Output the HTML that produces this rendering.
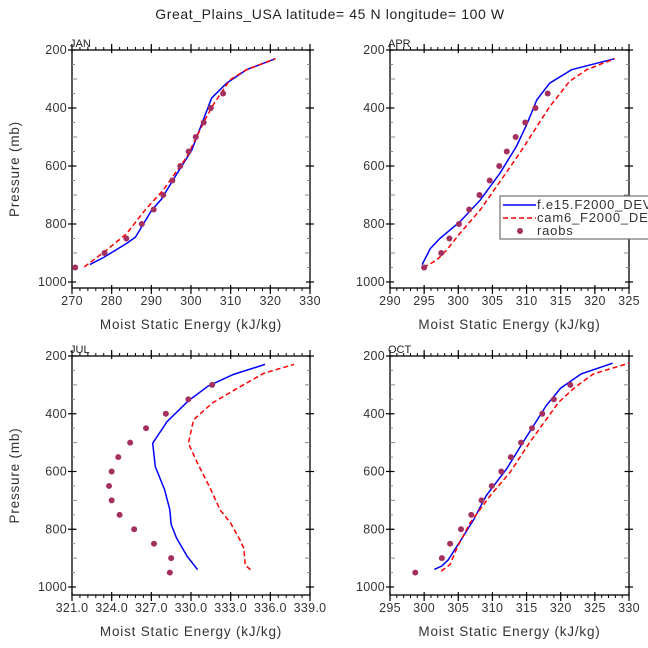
<!DOCTYPE html>
<html><head><meta charset="utf-8"><style>
html,body{margin:0;padding:0;background:#fff;overflow:hidden;}
svg{display:block;font-family:"Liberation Sans",sans-serif;}
</style></head><body>
<svg id="c" width="648" height="648" viewBox="0 0 648 648">
<text x="330" y="19" font-size="14" letter-spacing="0.6" text-anchor="middle" fill="#222">Great_Plains_USA  latitude= 45 N longitude= 100 W</text>
</svg>
<script>
// ---- data (pressure levels in mb, MSE in kJ/kg) ----
const obsP = [950,900,850,800,750,700,650,600,550,500,450,400,350];
const obsP2 = [950,900,850,800,750,700,650,600,550,500,450,400,350,300];
const janObs = [270.8,278.2,283.7,287.6,290.6,293.0,295.3,297.3,299.4,301.2,303.2,305.0,308.1];
const aprObs = [295.0,297.5,298.7,300.1,301.6,303.1,304.6,306.0,307.1,308.4,309.8,311.3,313.1];
const julObs = [328.4,328.5,327.2,325.7,324.6,324.0,323.8,324.0,324.5,325.4,326.6,328.1,329.8,331.6];
const octObs = [298.7,302.6,303.8,305.4,306.9,308.4,309.9,311.3,312.7,314.2,315.8,317.3,319.0,321.4];

const janBlueX = [274.5,278,283.8,286,290.1,292.5,295.5,300.2,305.2,309,314,321.3];
const janBlueP = [940,915,867,845,752,715,648,545,366,314,268,230];
const janRedX = [273.1,278.7,283.8,288.4,293,299,303.5,305.6,309.8,314,321.3];
const janRedP = [948,890,833,752,683,568,441,389,303,268,230];

const aprBlueX = [294.7,295.9,297.3,300.2,303.2,306.1,308.5,310,311.5,313.4,316.6,322.9];
const aprBlueP = [940,885,850,793,718,625,533,458,372,314,268,230];
const aprRedX = [294.9,296.8,298.3,300.2,303.2,306.6,309,311.5,313.4,316.3,318.8,322.9];
const aprRedP = [950,925,890,833,752,637,556,464,395,308,268,230];

const julBlueX = [330.5,329.7,328.9,328.5,328.4,328.0,327.3,327.1,328.2,329.8,331.3,333.2,335.6];
const julBlueP = [940,893,830,784,732,663,583,502,427,355,304,264,229];
const julRedX = [334.5,334.1,334.0,333.7,333.0,332.2,331.4,330.5,329.8,330.2,331.6,333.5,335.5,337.8];
const julRedP = [940,924,866,837,779,733,653,572,502,421,363,312,260,229];

const octBlueX = [301.5,302.6,303.5,305.2,307.2,309.1,312.1,314.5,317.9,320,323,327.6];
const octBlueP = [939,927,907,844,769,683,590,498,371,311,262,225];
const octRedX = [302.5,303.8,304.8,306.7,309.7,312.6,315.5,319.7,322.1,324.8,330];
const octRedP = [945,922,865,779,683,602,498,360,308,262,225];

const yTicks = [200,400,600,800,1000];
const janXTicks = [270,280,290,300,310,320,330];
const aprXTicks = [290,295,300,305,310,315,320,325];
const julXTicks = ["321.0","324.0","327.0","330.0","333.0","336.0","339.0"];
const octXTicks = [295,300,305,310,315,320,325,330];

const NS = "http://www.w3.org/2000/svg";
const svg = document.getElementById('c');
function mk(tag, attrs, parent){ const e=document.createElementNS(NS,tag); for(const k in attrs) e.setAttribute(k,attrs[k]); (parent||svg).appendChild(e); return e; }

function panel(cfg){
  const g = mk('g',{});
  
  
  const {x0,x1,top,y1000,bot,xmin,xmax,minorX} = cfg;
  const xs = v => x0 + (v-xmin)/(xmax-xmin)*(x1-x0);
  const ys = p => top + (p-200)/800*(y1000-top);
  const fr = mk('rect',{x:x0,y:top,width:x1-x0,height:bot-top,fill:'none',stroke:'#000','stroke-width':1.3},g);
  
  
  for(let v=xmin; v<=xmax+1e-6; v+=minorX){
    const X=xs(v);
    mk('line',{x1:X,y1:bot,x2:X,y2:bot+3,stroke:'#000','stroke-width':1},g);
    mk('line',{x1:X,y1:top,x2:X,y2:top-3,stroke:'#000','stroke-width':1},g);
  }
  cfg.xt.forEach(t=>{
    const X=xs(parseFloat(t));
    mk('line',{x1:X,y1:bot-3,x2:X,y2:bot+6,stroke:'#000','stroke-width':1.2},g);
    mk('line',{x1:X,y1:top+3,x2:X,y2:top-6,stroke:'#000','stroke-width':1.2},g);
    const tx = mk('text',{x:X,y:bot+17,'font-size':12.5,'letter-spacing':0.3,'text-anchor':'middle',fill:'#333'},g);
    tx.textContent = t;
    
    
  });
  for(let p=250;p<1000;p+=50){
    const Y=ys(p); const len = p%100===0?5:3;
    mk('line',{x1:x0,y1:Y,x2:x0+len,y2:Y,stroke:'#888','stroke-width':1},g);
    mk('line',{x1:x1,y1:Y,x2:x1-len,y2:Y,stroke:'#888','stroke-width':1},g);
  }
  yTicks.forEach(p=>{
    const Y=ys(p);
    mk('line',{x1:x0-4,y1:Y,x2:x0+4,y2:Y,stroke:'#000','stroke-width':1.2},g);
    mk('line',{x1:x1+4,y1:Y,x2:x1-4,y2:Y,stroke:'#000','stroke-width':1.2},g);
    const tx = mk('text',{x:x0-5,y:Y+4,'font-size':12.5,'letter-spacing':0.3,'text-anchor':'end',fill:'#333'},g);
    tx.textContent = p;
    
    
  });
  const ml = mk('text',{x:x0-2,y:top-3,'font-size':11,fill:'#222'},g);
  ml.textContent = cfg.label;
  
  
  const xt = mk('text',{x:(x0+x1)/2,y:bot+41,'font-size':13.5,'letter-spacing':0.8,'text-anchor':'middle',fill:'#333'},g);
  xt.textContent = 'Moist Static Energy (kJ/kg)';
  
  
  if(cfg.ytitle){
    const cy=(top+bot)/2;
    const yt = mk('text',{x:19,y:cy,'font-size':13.5,'letter-spacing':0.8,'text-anchor':'middle',fill:'#333',transform:`rotate(-90 19 ${cy})`},g);
    yt.textContent = 'Pressure (mb)';
    
    
  }
  const line = (X,P,col,dash,nm)=>{
    const pts = X.map((v,i)=>xs(v).toFixed(1)+','+ys(P[i]).toFixed(1)).join(' ');
    const pl = mk('polyline',{points:pts,fill:'none',stroke:col,'stroke-width':1.5,'stroke-dasharray':dash||'none'},g);
    
    
  };
  line(cfg.bx,cfg.bp,'#0000ff',null,cfg.name+'-blue-line');
  line(cfg.rx,cfg.rp,'#ff0000','5,3',cfg.name+'-red-line');
  cfg.ox.forEach((v,i)=>{
    const c = mk('circle',{cx:xs(v),cy:ys(cfg.op[i]),r:3,fill:'#a3305e'},g);
    
    
  });
}

const TOP1=50, Y1K1=282, BOT1=288, TOP2=356, Y1K2=587, BOT2=595;
panel({name:'jan',label:'JAN',x0:72,x1:310,top:TOP1,y1000:Y1K1,bot:BOT1,xmin:270,xmax:330,minorX:2,xt:janXTicks,ytitle:true,
  bx:janBlueX,bp:janBlueP,rx:janRedX,rp:janRedP,ox:janObs,op:obsP});
panel({name:'apr',label:'APR',x0:390,x1:629,top:TOP1,y1000:Y1K1,bot:BOT1,xmin:290,xmax:325,minorX:1,xt:aprXTicks,
  bx:aprBlueX,bp:aprBlueP,rx:aprRedX,rp:aprRedP,ox:aprObs,op:obsP});
panel({name:'jul',label:'JUL',x0:72,x1:310,top:TOP2,y1000:Y1K2,bot:BOT2,xmin:321,xmax:339,minorX:0.6,xt:julXTicks,ytitle:true,
  bx:julBlueX,bp:julBlueP,rx:julRedX,rp:julRedP,ox:julObs,op:obsP2});
panel({name:'oct',label:'OCT',x0:390,x1:629,top:TOP2,y1000:Y1K2,bot:BOT2,xmin:295,xmax:330,minorX:1,xt:octXTicks,
  bx:octBlueX,bp:octBlueP,rx:octRedX,rp:octRedP,ox:octObs,op:obsP2});

const lg = mk('g',{});


mk('rect',{x:500,y:196,width:170,height:43,fill:'#fff',stroke:'#555','stroke-width':1},lg);
mk('line',{x1:503,y1:205,x2:536,y2:205,stroke:'#0000ff','stroke-width':1.5},lg);
mk('line',{x1:503,y1:218,x2:536,y2:218,stroke:'#ff0000','stroke-width':1.5,'stroke-dasharray':'5,3'},lg);
mk('circle',{cx:520,cy:231,r:3,fill:'#a3305e'},lg);
[['f.e15.F2000_DEV',209],['cam6_F2000_DEV',222],['raobs',235]].forEach(([t,y])=>{
  const tx = mk('text',{x:537,y:y,'font-size':13,'letter-spacing':0.8,fill:'#333'},lg);
  tx.textContent = t;
  
  
});
</script>
</body></html>
